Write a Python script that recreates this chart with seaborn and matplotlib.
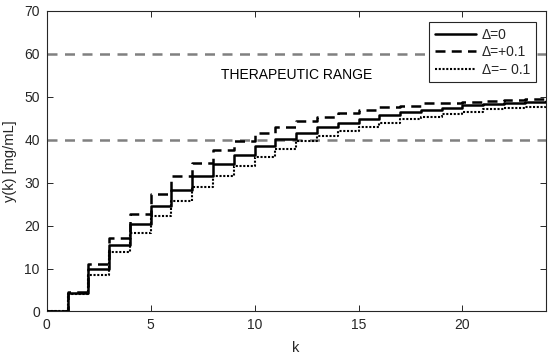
import matplotlib
matplotlib.use("Agg")
import matplotlib.pyplot as plt
import seaborn as sns
import pandas as pd
import numpy as np

k = list(range(0, 25))
y_nom = [0, 4.2, 9.9, 15.4, 20.3, 24.5, 28.2, 31.5, 34.3, 36.5, 38.4, 40.2, 41.6,
         42.9, 43.9, 44.9, 45.8, 46.5, 47.0, 47.4, 48.0, 48.3, 48.5, 48.7, 48.9]
y_plus = [0, 4.5, 11.1, 17.1, 22.8, 27.4, 31.5, 34.6, 37.5, 39.7, 41.5, 42.9, 44.3,
          45.3, 46.2, 46.9, 47.5, 47.9, 48.5, 48.6, 48.8, 49.1, 49.3, 49.5, 49.8]
y_minus = [0, 4.0, 8.6, 13.8, 18.2, 22.2, 25.8, 28.9, 31.6, 33.8, 36.0, 37.8, 39.6,
           40.8, 42.0, 42.9, 43.9, 44.8, 45.3, 46.0, 46.4, 47.2, 47.4, 47.7, 48.0]
labels = ["\u0394=0", "\u0394=+0.1", "\u0394=\u2212 0.1"]
range_lo, range_hi = 40, 60
range_text = "THERAPEUTIC RANGE"

sns.set_style("white")
plt.rcParams['font.family'] = ['Liberation Sans', 'DejaVu Sans']
axc = '#262626'

fig = plt.figure(figsize=(5.5, 3.58), dpi=100)
ax = fig.add_axes([0.085, 0.130, 0.907, 0.840])

ax.axhline(range_lo, color='#808080', lw=1.8, ls=(0, (4, 3)), zorder=1)
ax.axhline(range_hi, color='#808080', lw=1.8, ls=(0, (4, 3)), zorder=1)

styles = ['-', (0, (4, 2.5)), (0, (1, 0.8))]
widths = [1.8, 1.8, 1.5]
for ys, lab, st, lw in zip([y_nom, y_plus, y_minus], labels, styles, widths):
    df = pd.DataFrame({'k': k, 'y': ys})
    sns.lineplot(data=df, x='k', y='y', ax=ax, color='k', linestyle=st, lw=lw,
                 drawstyle='steps-post', label=lab, zorder=3)

ax.text(12.0, 55, range_text, ha='center', va='center', fontsize=10, color='k')

ax.set_xlim(0, 24)
ax.set_ylim(0, 70)
ax.set_xticks([0, 5, 10, 15, 20])
ax.set_yticks(range(0, 71, 10))
ax.set_xlabel('k', fontsize=10.5, color=axc, labelpad=6)
ax.set_ylabel('y(k) [mg/mL]', fontsize=10.5, color=axc, labelpad=5)
ax.tick_params(direction='in', length=4, width=0.7, colors=axc, labelsize=10,
               top=True, right=True, bottom=True, left=True, pad=5)
for s in ax.spines.values():
    s.set_visible(True)
    s.set_color(axc)
    s.set_linewidth(0.8)

leg = ax.legend(loc='upper right', bbox_to_anchor=(0.98, 0.962), fontsize=10,
                frameon=True, fancybox=False, edgecolor=axc, framealpha=1,
                handlelength=3.0, handletextpad=0.4, borderpad=0.4,
                labelspacing=0.25, borderaxespad=0)
leg.get_frame().set_linewidth(0.8)

fig.savefig('out.png', dpi=100)
